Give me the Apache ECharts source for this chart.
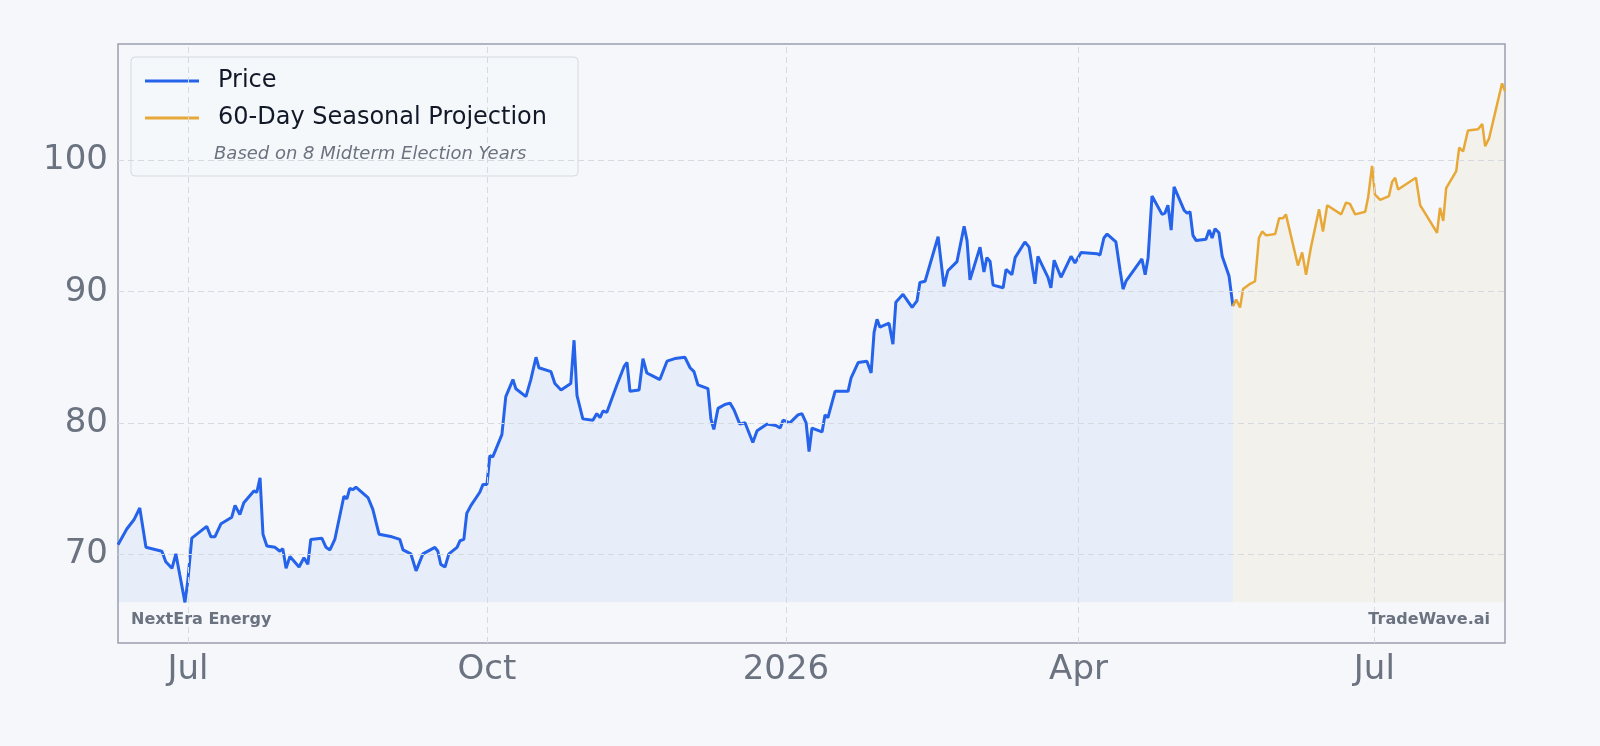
<!DOCTYPE html>
<html>
<head>
<meta charset="utf-8">
<script src="https://cdn.jsdelivr.net/npm/echarts@6/dist/echarts.min.js"></script>
<style>
  html, body { margin: 0; padding: 0; background: #f5f7fa; }
  #chart { width: 1600px; height: 746px; }
</style>
</head>
<body>
<div id="chart"></div>
<script>
// x values are days counted from 2025-07-01
const priceDays = [-21.5,-18.8,-16.6,-14.8,-12.9,-8,-6.8,-4.9,-3.7,-2.5,-0.9,0,1.2,5.8,7.1,8.3,10.2,13.5,14.5,16,17.2,20.3,21.2,22.2,23.1,24.3,26.8,28.3,29.2,30.2,31.4,34.2,35.7,36.9,37.8,41.2,42.5,43.7,45.2,48,48.9,49.8,50.8,51.7,55.4,56.9,58.8,62.8,65.2,66.2,68.6,70.2,72.3,76,76.9,77.8,79.1,80.3,82.8,83.7,84.9,85.8,87.1,89.8,90.8,92,92.9,93.8,96.6,97.8,100,100.9,104,105.5,107.1,108,111.7,112.9,114.8,117.8,118.8,119.7,121.5,124.6,125.8,126.8,127.7,128.9,132,134.2,135.1,136,138.8,140,141.2,142.8,145.2,147.4,149.8,152.9,154.5,155.7,156.9,160,160.9,161.8,163.1,165.2,166.8,168,169.8,171.4,173.8,175.1,178.2,180.9,182.2,183.1,185.2,187.7,188.9,190.2,191.1,192,195.1,196,196.9,199.1,203.1,204,206.2,208.9,210.2,211.1,212,212.9,215.7,216.9,217.8,220,222.8,224.3,225.2,226.8,230.8,232.6,233.8,236.6,238.8,239.7,240.6,243.7,244.9,245.8,246.8,247.7,250.8,251.7,253.5,254.5,257.5,258.8,260.6,261.5,264.6,265.5,266.5,268.6,271.7,272.9,274.8,279.7,280.6,281.8,282.8,285.5,286.8,287.7,288.6,293.5,294.5,295.4,296.6,299.7,300.6,301.5,302.5,303.4,306.5,307.4,308.3,309.2,310.2,313.2,314.2,315.1,316,317.2,318.2,320.3,321.5];
const priceValues = [70.7,71.9,72.6,73.5,70.5,70.2,69.4,68.9,70.0,68.4,66.3,68.0,71.2,72.1,71.3,71.3,72.3,72.8,73.7,73.0,73.9,74.8,74.7,75.8,71.5,70.6,70.5,70.2,70.4,68.9,69.8,69.0,69.7,69.2,71.1,71.2,70.5,70.3,71.1,74.4,74.2,75.0,74.9,75.1,74.3,73.4,71.5,71.3,71.1,70.3,70.0,68.7,70.0,70.5,70.2,69.2,69.0,70.0,70.5,71.0,71.1,73.1,73.7,74.7,75.3,75.3,77.5,77.4,79.1,82.0,83.3,82.6,82.0,83.3,85.0,84.2,83.9,83.0,82.5,83.0,86.3,82.1,80.3,80.2,80.7,80.4,80.9,80.8,82.9,84.3,84.6,82.4,82.5,84.9,83.8,83.6,83.3,84.7,84.9,85.0,84.2,83.9,82.9,82.6,80.3,79.5,81.1,81.4,81.5,81.0,79.9,80.0,78.5,79.4,79.9,79.8,79.6,80.2,80.0,80.6,80.7,80.0,77.8,79.6,79.3,80.6,80.4,82.4,82.4,83.4,84.6,84.7,83.8,86.9,87.9,87.3,87.6,86.0,89.2,89.8,88.8,89.3,90.7,90.8,94.2,90.4,91.6,92.3,95.0,93.9,90.9,93.4,91.5,92.6,92.3,90.5,90.3,91.7,91.3,92.6,93.8,93.4,90.6,92.7,91.1,90.3,92.4,91.1,92.7,92.2,93.0,92.9,92.8,94.1,94.4,93.8,91.6,90.2,90.8,92.5,91.3,92.6,97.3,95.9,96.0,96.6,94.7,98.0,96.2,96.0,96.1,94.3,93.9,94.0,94.7,94.1,94.8,94.5,92.7,91.2,88.9];
const projDays = [321.5,322.5,323.7,324.6,326.8,328.3,329.5,330.5,331.7,334.5,335.7,336.9,337.8,341.5,342.8,344,345.5,348,349.2,350.5,354.8,356.3,357.5,359.1,362.2,363.1,364.3,365.2,366.8,369.5,370.5,371.4,372.3,376.6,377.8,379.1,380.6,384.3,385.2,386.2,387.1,390.2,391.1,392.3,393.8,396.9,398.2,399.1,400.3,404.3,405.2];
const projValues = [88.9,89.4,88.8,90.2,90.6,90.8,94.1,94.6,94.3,94.4,95.6,95.6,95.9,92.0,93.0,91.3,93.4,96.3,94.6,96.6,95.9,96.8,96.7,95.9,96.1,97.2,99.6,97.4,97.0,97.3,98.4,98.7,97.8,98.5,98.7,96.6,96.0,94.5,96.4,95.4,97.9,99.2,101.0,100.7,102.3,102.4,102.8,101.1,101.7,105.9,105.3];
const xTickDays = [0, 92, 184, 274, 365];
const xTickLabels = ['Jul', 'Oct', '2026', 'Apr', 'Jul'];
const yTicks = [70, 80, 90, 100];

const chart = echarts.init(document.getElementById('chart'));
const font = 'DejaVu Sans';
const gridLine = { color: '#d5d9e0', type: [6, 4], width: 1 };
const baseLevel = Math.min(...priceValues);

chart.setOption({
  backgroundColor: '#f5f7fa',
  animation: false,
  textStyle: { fontFamily: font },
  grid: { left: 118, right: 95, top: 44, bottom: 103, show: true, borderColor: '#9aa0b0', borderWidth: 1.5, backgroundColor: 'transparent' },
  xAxis: {
    type: 'value', min: -21.5, max: 405.2,
    splitLine: { show: false },
    axisLine: { show: false },
    axisTick: { show: false, customValues: xTickDays },
    axisLabel: {
      customValues: xTickDays, fontSize: 34, color: '#6b7280', margin: 10, fontFamily: font,
      formatter: v => xTickLabels[xTickDays.indexOf(v)] || ''
    }
  },
  yAxis: {
    type: 'value', min: 63.2, max: 108.9,
    splitLine: { show: false },
    axisLine: { show: false },
    axisTick: { show: false, customValues: yTicks },
    axisLabel: { customValues: yTicks, fontSize: 34, color: '#6b7280', margin: 10, fontFamily: font }
  },
  legend: {
    orient: 'vertical', left: 140, top: 64, itemGap: 13, itemWidth: 54, itemHeight: 3,
    textStyle: { fontSize: 24, color: '#111827', fontFamily: font, padding: [0, 0, 0, 14] },
    data: [{ name: 'Price', icon: 'rect' }, { name: '60-Day Seasonal Projection', icon: 'rect' }]
  },
  graphic: [
    { type: 'rect', z: 0, shape: { x: 131, y: 57, width: 447, height: 119, r: 4 }, style: { fill: 'rgba(245,247,250,0.9)', stroke: '#d5d9e0', lineWidth: 1 } },
    { type: 'text', z: 10, left: 214, top: 145, style: { text: 'Based on 8 Midterm Election Years', fontSize: 18, fontStyle: 'italic', fill: '#6b7280', fontFamily: font } },
    { type: 'text', z: 10, left: 131, top: 612, style: { text: 'NextEra Energy', fontSize: 16, fontWeight: 'bold', fill: '#6b7280', fontFamily: font } },
    { type: 'text', z: 10, right: 110, top: 612, style: { text: 'TradeWave.ai', fontSize: 16, fontWeight: 'bold', fill: '#6b7280', fontFamily: font } }
  ],
  series: [
    {
      name: 'grid', type: 'line', data: [], z: 1,
      markLine: {
        silent: true, symbol: 'none', label: { show: false }, lineStyle: gridLine,
        data: xTickDays.map(v => ({ xAxis: v })).concat(yTicks.map(v => ({ yAxis: v })))
      }
    },
    {
      name: 'Price', type: 'line', symbol: 'none', z: 3,
      data: priceDays.map((d, i) => [d, priceValues[i]]),
      lineStyle: { color: '#2563eb', width: 3 },
      itemStyle: { color: '#2563eb' },
      areaStyle: { color: 'rgba(59,130,246,0.1)', origin: baseLevel }
    },
    {
      name: '60-Day Seasonal Projection', type: 'line', symbol: 'none', z: 3,
      data: projDays.map((d, i) => [d, projValues[i]]),
      lineStyle: { color: '#e8a838', width: 2.5 },
      itemStyle: { color: '#e8a838' },
      areaStyle: { color: 'rgba(232,168,56,0.1)', origin: baseLevel }
    }
  ]
});
</script>
</body>
</html>
